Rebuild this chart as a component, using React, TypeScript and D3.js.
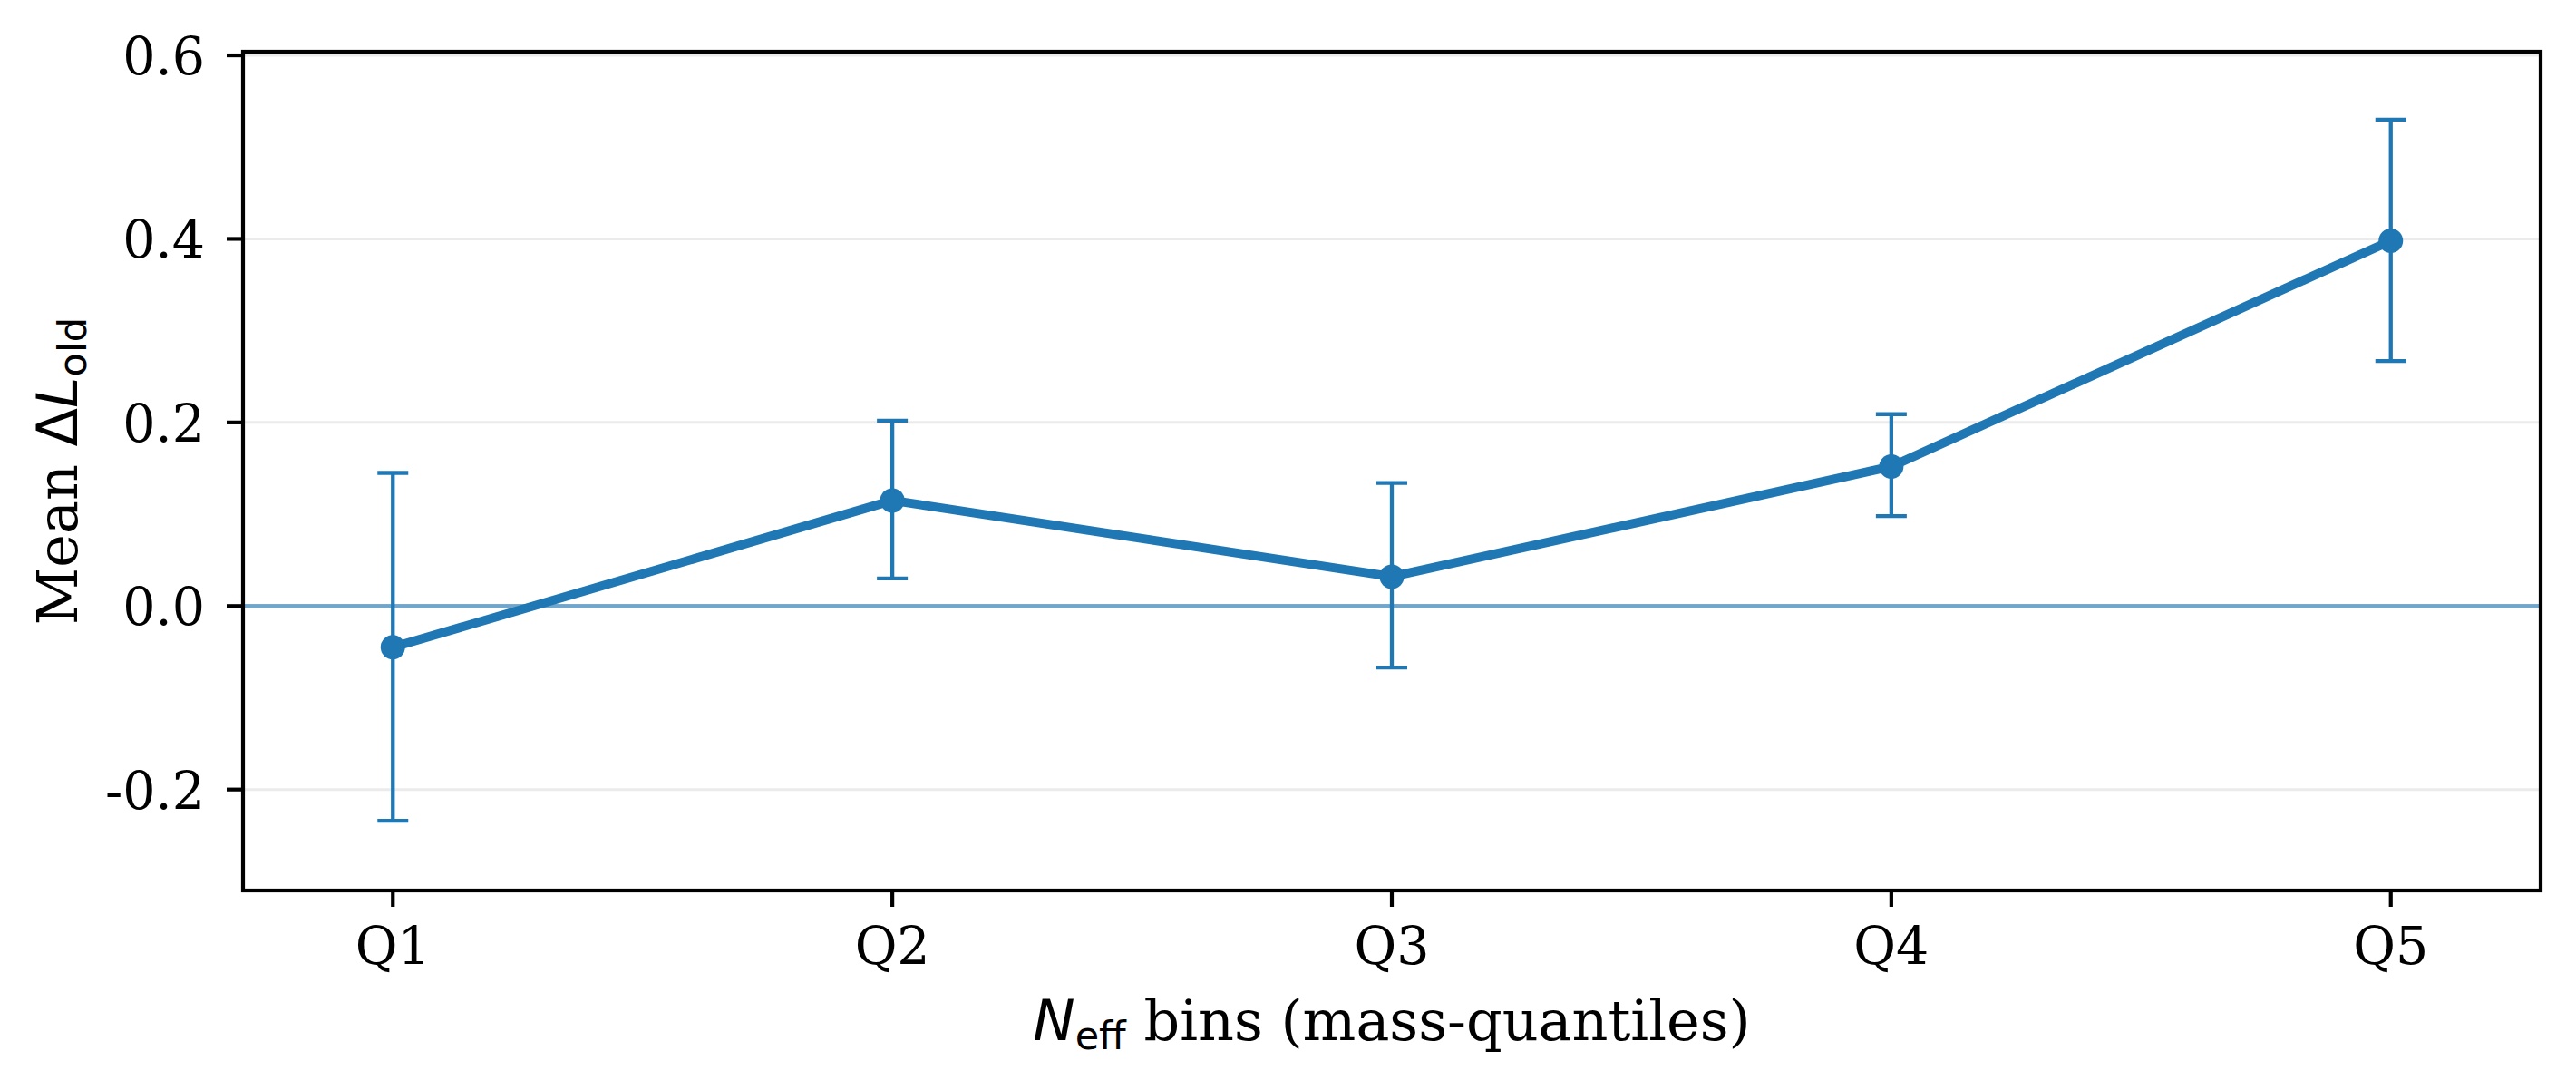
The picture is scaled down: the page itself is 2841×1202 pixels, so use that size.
import React, { useRef, useEffect } from 'react';
import * as d3 from 'd3';

const bins = ['Q1', 'Q2', 'Q3', 'Q4', 'Q5'];
const meanValues = [-0.045, 0.115, 0.032, 0.152, 0.398];
const errLow = [-0.234, 0.030, -0.067, 0.098, 0.267];
const errHigh = [0.145, 0.202, 0.134, 0.209, 0.530];
const yTicks = [-0.2, 0.0, 0.2, 0.4, 0.6];

const WIDTH = 2841;
const HEIGHT = 1202;
const BLUE = '#1f77b4';

const App: React.FC = () => {
  const svgRef = useRef<SVGSVGElement>(null);

  useEffect(() => {
    if (!svgRef.current) return;
    const svg = d3.select(svgRef.current);
    svg.selectAll('*').remove();

    const margin = { top: 57, right: 39, bottom: 220, left: 268 };
    const innerWidth = WIDTH - margin.left - margin.right;
    const innerHeight = HEIGHT - margin.top - margin.bottom;

    svg.append('rect').attr('width', WIDTH).attr('height', HEIGHT).attr('fill', '#ffffff');

    const g = svg.append('g').attr('transform', `translate(${margin.left},${margin.top})`);

    const xScale = d3.scalePoint<string>().domain(bins).range([0, innerWidth]).padding(0.3);
    const yScale = d3.scaleLinear().domain([-0.31, 0.604]).range([innerHeight, 0]);

    // Grid lines (horizontal only)
    g.selectAll('.grid-line-y')
      .data(yTicks)
      .enter()
      .append('line')
      .attr('class', 'grid-line-y')
      .attr('x1', 0)
      .attr('x2', innerWidth)
      .attr('y1', d => yScale(d))
      .attr('y2', d => yScale(d))
      .attr('stroke', '#ebebeb')
      .attr('stroke-width', 3);

    // Zero reference line
    g.append('line')
      .attr('x1', 0)
      .attr('x2', innerWidth)
      .attr('y1', yScale(0))
      .attr('y2', yScale(0))
      .attr('stroke', BLUE)
      .attr('stroke-opacity', 0.6)
      .attr('stroke-width', 4.5);

    const data = bins.map((b, i) => ({ b, v: meanValues[i], lo: errLow[i], hi: errHigh[i] }));

    // Error bars
    const capHalf = 17;
    const eb = g.selectAll('.errbar').data(data).enter().append('g').attr('class', 'errbar');
    eb.append('line')
      .attr('x1', d => xScale(d.b)!)
      .attr('x2', d => xScale(d.b)!)
      .attr('y1', d => yScale(d.lo))
      .attr('y2', d => yScale(d.hi))
      .attr('stroke', BLUE)
      .attr('stroke-width', 4.3);
    [(d: any) => yScale(d.lo), (d: any) => yScale(d.hi)].forEach(fy => {
      eb.append('line')
        .attr('x1', d => xScale(d.b)! - capHalf)
        .attr('x2', d => xScale(d.b)! + capHalf)
        .attr('y1', fy)
        .attr('y2', fy)
        .attr('stroke', BLUE)
        .attr('stroke-width', 4.3);
    });

    // Line
    const line = d3
      .line<{ b: string; v: number }>()
      .x(d => xScale(d.b)!)
      .y(d => yScale(d.v));
    g.append('path')
      .datum(data)
      .attr('d', line)
      .attr('fill', 'none')
      .attr('stroke', BLUE)
      .attr('stroke-width', 10)
      .attr('stroke-linejoin', 'round');

    // Markers
    g.selectAll('.pt')
      .data(data)
      .enter()
      .append('circle')
      .attr('class', 'pt')
      .attr('cx', d => xScale(d.b)!)
      .attr('cy', d => yScale(d.v))
      .attr('r', 13.5)
      .attr('fill', BLUE);

    // Spines
    g.append('rect')
      .attr('x', 0)
      .attr('y', 0)
      .attr('width', innerWidth)
      .attr('height', innerHeight)
      .attr('fill', 'none')
      .attr('stroke', '#000')
      .attr('stroke-width', 4.2);

    // Y ticks
    yTicks.forEach(t => {
      g.append('line')
        .attr('x1', -18)
        .attr('x2', 0)
        .attr('y1', yScale(t))
        .attr('y2', yScale(t))
        .attr('stroke', '#000')
        .attr('stroke-width', 4.2);
      g.append('text')
        .attr('x', -42)
        .attr('y', yScale(t) + 21)
        .attr('text-anchor', 'end')
        .attr('font-family', 'DejaVu Serif')
        .attr('font-size', 57)
        .attr('fill', '#000')
        .text(t.toFixed(1));
    });

    // X ticks
    bins.forEach(b => {
      g.append('line')
        .attr('x1', xScale(b)!)
        .attr('x2', xScale(b)!)
        .attr('y1', innerHeight)
        .attr('y2', innerHeight + 18)
        .attr('stroke', '#000')
        .attr('stroke-width', 4.2);
      g.append('text')
        .attr('x', xScale(b)!)
        .attr('y', innerHeight + 81)
        .attr('text-anchor', 'middle')
        .attr('font-family', 'DejaVu Serif')
        .attr('font-size', 57)
        .attr('fill', '#000')
        .text(b);
    });

    // X axis label
    const xl = g
      .append('text')
      .attr('x', innerWidth / 2)
      .attr('y', innerHeight + 165)
      .attr('text-anchor', 'middle')
      .attr('font-family', 'DejaVu Serif')
      .attr('font-size', 62)
      .attr('fill', '#000');
    xl.append('tspan').attr('font-family', 'DejaVu Sans').attr('font-style', 'italic').text('N');
    xl.append('tspan').attr('font-family', 'DejaVu Sans').attr('font-size', 43).attr('dy', 10).text('eff');
    xl.append('tspan').attr('dy', -10).text(' bins (mass-quantiles)');

    // Y axis label
    const yl = svg
      .append('text')
      .attr('transform', `translate(85,${margin.top + innerHeight / 2}) rotate(-90)`)
      .attr('text-anchor', 'middle')
      .attr('font-family', 'DejaVu Serif')
      .attr('font-size', 62)
      .attr('fill', '#000');
    yl.append('tspan').text('Mean ');
    yl.append('tspan').attr('font-family', 'DejaVu Sans').text('Δ');
    yl.append('tspan').attr('font-family', 'DejaVu Sans').attr('font-style', 'italic').text('L');
    yl.append('tspan').attr('font-family', 'DejaVu Sans').attr('font-size', 43).attr('dy', 10).text('old');
  }, []);

  return (
    <div style={{ position: 'absolute', left: 0, top: 0 }}>
      <svg ref={svgRef} width={WIDTH} height={HEIGHT} style={{ display: 'block' }} />
    </div>
  );
};

export default App;
